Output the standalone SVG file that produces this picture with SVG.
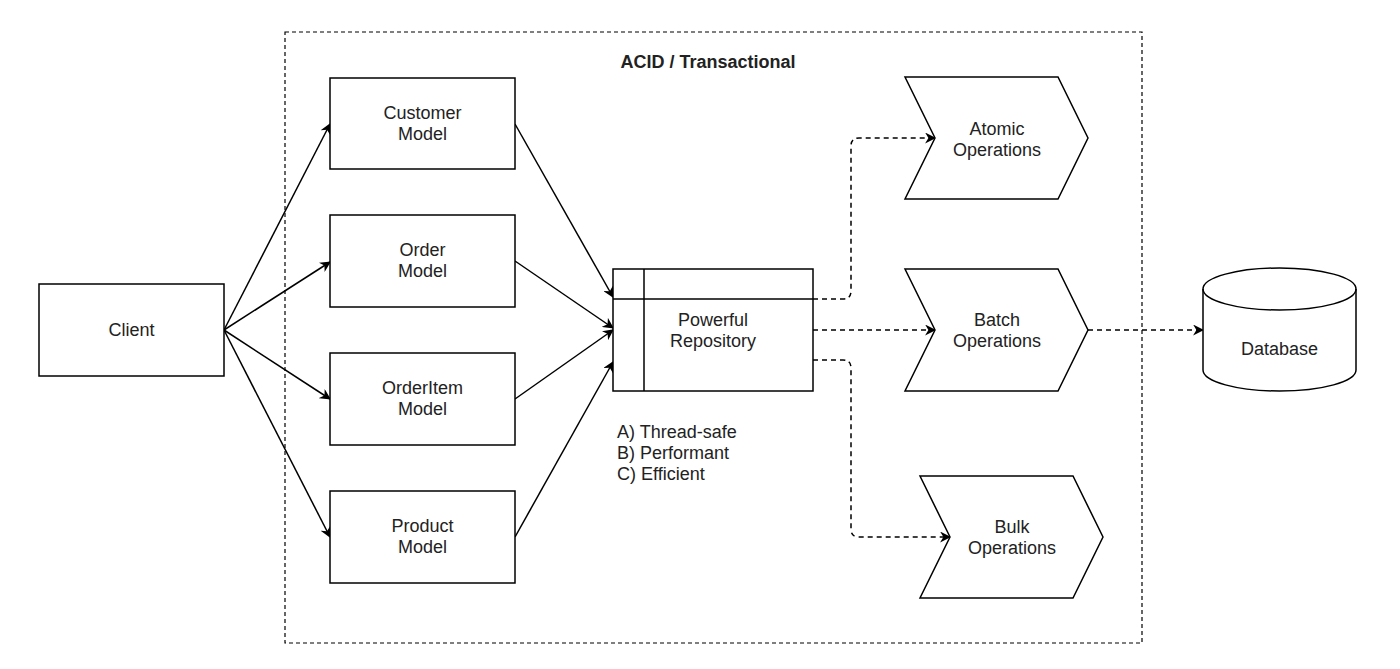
<svg xmlns="http://www.w3.org/2000/svg" width="1400" height="669" viewBox="0 0 1400 669">
<style>
.box{fill:#fff;stroke:#000;stroke-width:1.5}
.t{font-family:"Liberation Sans",Arial,sans-serif;font-size:18px;fill:#222;text-anchor:middle}
.tl{font-family:"Liberation Sans",Arial,sans-serif;font-size:18px;fill:#222}
.c{fill:none;stroke:#000;stroke-width:1.5}
.d{fill:none;stroke:#000;stroke-width:1.5;stroke-dasharray:5 4}
</style>
<defs>
<marker id="ar" viewBox="0 0 10 10" refX="9" refY="5" markerWidth="8" markerHeight="8" markerUnits="userSpaceOnUse" orient="auto">
<path d="M0,0 L10,5 L0,10 L3,5 Z" fill="#000"/>
</marker>
<marker id="arb" viewBox="0 0 10 10" refX="9" refY="5" markerWidth="11" markerHeight="11" markerUnits="userSpaceOnUse" orient="auto">
<path d="M0,0 L10,5 L0,10 L3,5 Z" fill="#000"/>
</marker>
</defs>
<rect width="1400" height="669" fill="#fff"/>
<g id="container">
<rect x="285" y="32" width="857" height="611" fill="none" stroke="#000" stroke-width="1.2" stroke-dasharray="4 3"/>
<text x="708" y="68" class="t" style="font-weight:bold">ACID / Transactional</text>
</g>
<g id="connectors">
<path class="c" d="M224,330 L330,124" marker-end="url(#arb)"/>
<path class="c" d="M224,330 L330,262" marker-end="url(#arb)"/>
<path class="c" d="M224,330 L330,399" marker-end="url(#arb)"/>
<path class="c" d="M224,330 L330,537" marker-end="url(#arb)"/>
<path class="c" d="M515,124 L613,297" marker-end="url(#arb)"/>
<path class="c" d="M515,261 L613,328" marker-end="url(#arb)"/>
<path class="c" d="M515,399 L613,330" marker-end="url(#arb)"/>
<path class="c" d="M515,537 L613,362" marker-end="url(#arb)"/>
<path class="d" d="M813,299 L843,299 Q851,299 851,291 L851,146 Q851,138 859,138 L935,138" marker-end="url(#arb)"/>
<path class="d" d="M813,330 L935,330" marker-end="url(#arb)"/>
<path class="d" d="M813,360 L843,360 Q851,360 851,368 L851,529 Q851,537 859,537 L950,537" marker-end="url(#arb)"/>
<path class="d" d="M1088,330 L1203,330" marker-end="url(#arb)"/>
</g>
<g id="client">
<rect class="box" x="39" y="284" width="185" height="92"/>
<text x="131.5" y="336" class="t">Client</text>
</g>
<g id="customer">
<rect class="box" x="330" y="78" width="185" height="91"/>
<text x="422.5" y="119" class="t">Customer</text>
<text x="422.5" y="140" class="t">Model</text>
</g>
<g id="order">
<rect class="box" x="330" y="215" width="185" height="92"/>
<text x="422.5" y="256" class="t">Order</text>
<text x="422.5" y="277" class="t">Model</text>
</g>
<g id="orderitem">
<rect class="box" x="330" y="353" width="185" height="92"/>
<text x="422.5" y="394" class="t">OrderItem</text>
<text x="422.5" y="415" class="t">Model</text>
</g>
<g id="product">
<rect class="box" x="330" y="491" width="185" height="92"/>
<text x="422.5" y="532" class="t">Product</text>
<text x="422.5" y="553" class="t">Model</text>
</g>
<g id="repository">
<rect class="box" x="613" y="269" width="200" height="122"/>
<line x1="613" y1="299" x2="813" y2="299" stroke="#000" stroke-width="1.5"/>
<line x1="644" y1="269" x2="644" y2="391" stroke="#000" stroke-width="1.5"/>
<text x="713" y="326" class="t">Powerful</text>
<text x="713" y="347" class="t">Repository</text>
</g>
<g id="properties">
<text x="617" y="438" class="tl">A) Thread-safe</text>
<text x="617" y="459" class="tl">B) Performant</text>
<text x="617" y="480" class="tl">C) Efficient</text>
</g>
<g id="atomic">
<path class="box" d="M905,77 L1058,77 L1088,138 L1058,199 L905,199 L935,138 Z"/>
<text x="997" y="135" class="t">Atomic</text>
<text x="997" y="156" class="t">Operations</text>
</g>
<g id="batch">
<path class="box" d="M905,269 L1058,269 L1088,330 L1058,391 L905,391 L935,330 Z"/>
<text x="997" y="326" class="t">Batch</text>
<text x="997" y="347" class="t">Operations</text>
</g>
<g id="bulk">
<path class="box" d="M920,476 L1073,476 L1103,537 L1073,598 L920,598 L950,537 Z"/>
<text x="1012" y="533" class="t">Bulk</text>
<text x="1012" y="554" class="t">Operations</text>
</g>
<g id="database">
<path class="box" d="M1203,289 A76.5,21 0 0,1 1356,289 L1356,370 A76.5,21 0 0,1 1203,370 Z"/>
<path class="c" d="M1203,289 A76.5,21 0 0,0 1356,289"/>
<text x="1279.5" y="355" class="t">Database</text>
</g>
</svg>
